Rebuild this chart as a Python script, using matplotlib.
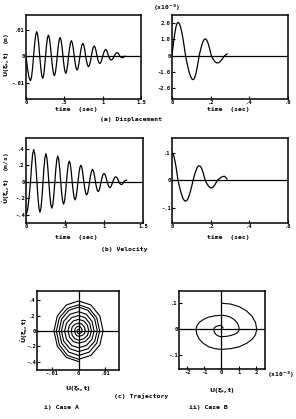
#!/usr/bin/env python3
"""
Response of point xi_s: displacement, velocity and trajectory for case A and case B
"""

import numpy as np
import matplotlib
matplotlib.use('Agg')
import matplotlib.pyplot as plt

# ---- Case A, displacement in mm, velocity in m/s ----
t_a = [0, 0.0193, 0.0387, 0.058,
       0.0717, 0.0853, 0.099, 0.1127, 0.1263, 0.140,
       0.153, 0.166, 0.179, 0.192, 0.205, 0.218,
       0.2303, 0.2427, 0.255, 0.2673, 0.2797, 0.292,
       0.305, 0.318, 0.331, 0.344, 0.357, 0.370,
       0.3825, 0.395, 0.4075, 0.420, 0.4325, 0.445,
       0.4573, 0.4697, 0.482, 0.4943, 0.5067, 0.519,
       0.5312, 0.5433, 0.5555, 0.5677, 0.5798, 0.592,
       0.6043, 0.6167, 0.629, 0.6413, 0.6537, 0.666,
       0.6785, 0.691, 0.7035, 0.716, 0.7285, 0.741,
       0.7533, 0.7657, 0.778, 0.7903, 0.8027, 0.815,
       0.8275, 0.840, 0.8525, 0.865, 0.8775, 0.890,
       0.902, 0.914, 0.926, 0.938, 0.950, 0.962,
       0.975, 0.988, 1.001, 1.014, 1.027, 1.040,
       1.052, 1.064, 1.076, 1.088, 1.100, 1.112,
       1.125, 1.138, 1.151, 1.164, 1.177, 1.190,
       1.201, 1.212, 1.223, 1.233, 1.244, 1.255,
       1.267, 1.279, 1.290]

disp_a_mm = [0, -4.65, -8.05, -9.3,
             -8.05, -4.65, 0, 4.6, 7.97, 9.2,
             7.97, 4.6, 0, -4.2, -7.27, -8.4,
             -7.27, -4.2, 0, 3.95, 6.84, 7.9,
             6.84, 3.95, 0, -3.7, -6.41, -7.4,
             -6.41, -3.7, 0, 3.5, 6.06, 7.0,
             6.06, 3.5, 0, -3.25, -5.63, -6.5,
             -5.63, -3.25, 0, 2.9, 5.02, 5.8,
             5.02, 2.9, 0, -2.65, -4.59, -5.3,
             -4.59, -2.65, 0, 2.4, 4.16, 4.8,
             4.16, 2.4, 0, -2.0, -3.46, -4.0,
             -3.46, -2.0, 0, 1.9, 3.29, 3.8,
             3.29, 1.9, 0, -1.4, -2.42, -2.8,
             -2.42, -1.4, 0, 1.25, 2.17, 2.5,
             2.17, 1.25, 0, -0.75, -1.3, -1.5,
             -1.3, -0.75, 0, 0.65, 1.13, 1.3,
             1.13, 0.65, 0, -0.3, -0.52, -0.6,
             -0.52, -0.3, 0]

vel_a = [-0.40, -0.346, -0.20, 0,
         0.195, 0.338, 0.39, 0.338, 0.195, 0,
         -0.185, -0.32, -0.37, -0.32, -0.185, 0,
         0.17, 0.294, 0.34, 0.294, 0.17, 0,
         -0.16, -0.277, -0.32, -0.277, -0.16, 0,
         0.155, 0.268, 0.31, 0.268, 0.155, 0,
         -0.135, -0.234, -0.27, -0.234, -0.135, 0,
         0.125, 0.217, 0.25, 0.217, 0.125, 0,
         -0.11, -0.19, -0.22, -0.19, -0.11, 0,
         0.10, 0.173, 0.20, 0.173, 0.10, 0,
         -0.08, -0.139, -0.16, -0.139, -0.08, 0,
         0.075, 0.13, 0.15, 0.13, 0.075, 0,
         -0.06, -0.104, -0.12, -0.104, -0.06, 0,
         0.05, 0.087, 0.10, 0.087, 0.05, 0,
         -0.035, -0.061, -0.07, -0.061, -0.035, 0,
         0.03, 0.052, 0.06, 0.052, 0.03, 0,
         -0.018, -0.03, -0.035, -0.03, -0.018, 0,
         0.01, 0.017, 0.02]

# ---- Case B, displacement in 1e-3 m, velocity in m/s ----
t_b = [0, 0.0052, 0.0103, 0.0155, 0.0207, 0.0258, 0.031,
       0.0375, 0.044, 0.0505, 0.057, 0.0635, 0.070,
       0.0765, 0.083, 0.0895, 0.096, 0.1025, 0.109,
       0.1143, 0.1195, 0.1248, 0.130, 0.1353, 0.1405,
       0.1458, 0.151, 0.1563, 0.1615, 0.1668, 0.172,
       0.1772, 0.1823, 0.1875, 0.1927, 0.1978, 0.203,
       0.2082, 0.2133, 0.2185, 0.2237, 0.2288, 0.234,
       0.2403, 0.2467, 0.253, 0.2593, 0.2657, 0.272, 0.285]

disp_b_mm = [0, 0.53, 1.03, 1.45, 1.78, 1.98, 2.05,
             1.98, 1.78, 1.45, 1.03, 0.53, 0,
             -0.38, -0.74, -1.05, -1.28, -1.43, -1.48,
             -1.43, -1.28, -1.05, -0.74, -0.38, 0,
             0.27, 0.515, 0.73, 0.89, 0.995, 1.03,
             0.995, 0.89, 0.73, 0.515, 0.27, 0,
             -0.12, -0.225, -0.32, -0.39, -0.435, -0.45,
             -0.435, -0.39, -0.32, -0.225, -0.12, 0, 0.1]

vel_b = [0.10, 0.097, 0.087, 0.071, 0.05, 0.026, 0,
         -0.020, -0.0385, -0.054, -0.067, -0.074, -0.077,
         -0.074, -0.067, -0.054, -0.0385, -0.020, 0,
         0.014, 0.027, 0.038, 0.047, 0.052, 0.054,
         0.052, 0.047, 0.038, 0.027, 0.014, 0,
         -0.0073, -0.014, -0.0198, -0.024, -0.027, -0.028,
         -0.027, -0.024, -0.0198, -0.014, -0.0073, 0,
         0.0039, 0.0075, 0.0106, 0.013, 0.0145, 0.015, 0.005]

# tick values / labels
time_ticks_a = [0, 0.5, 1, 1.5]
time_labels_a = ['0', '.5', '1', '1.5']
time_ticks_b = [0, 0.2, 0.4, 0.6]
time_labels_b = ['0', '.2', '.4', '.6']
disp_ticks_a = [0.01, 0, -0.01]
disp_labels_a = ['.01', '0', '-.01']
disp_ticks_b = [2, 1, 0, -1, -2]
disp_labels_b = ['2.0', '1.0', '0', '-1.0', '-2.0']
vel_ticks_a = [0.4, 0.2, 0, -0.2, -0.4]
vel_labels_a = ['.4', '.2', '0', '-.2', '-.4']
vel_ticks_b = [0.1, 0, -0.1]
vel_labels_b = ['.1', '0', '-.1']
traj_xticks_a = [-0.01, 0, 0.01]
traj_xlabels_a = ['-.01', '0', '.01']
traj_xticks_b = [-2, -1, 0, 1, 2]
traj_xlabels_b = ['-2', '-1', '0', '1', '2']

W, H = 296, 419
plt.rcParams['font.family'] = 'DejaVu Sans Mono'
plt.rcParams['font.weight'] = 'bold'
plt.rcParams['mathtext.fontset'] = 'dejavusans'
plt.rcParams['mathtext.default'] = 'bf'

fig = plt.figure(figsize=(W / 100, H / 100), dpi=100)


def add_axes_px(x0, y0, x1, y1):
    """axes from pixel box (left, top, right, bottom)"""
    return fig.add_axes([x0 / W, 1 - y1 / H, (x1 - x0) / W, (y1 - y0) / H])


def ftext(x, y, s, **kw):
    kw.setdefault('fontsize', 4.6)
    kw.setdefault('ha', 'center')
    kw.setdefault('va', 'center')
    fig.text(x / W, 1 - y / H, s, **kw)


def style(ax, xt, xl, yt, yl, xlim, ylim):
    ax.set_xlim(*xlim)
    ax.set_ylim(*ylim)
    ax.set_xticks(xt)
    ax.set_xticklabels(xl)
    ax.set_yticks(yt)
    ax.set_yticklabels(yl)
    ax.tick_params(direction='in', length=2, width=0.8, labelsize=4.0, pad=1.0)
    for s in ax.spines.values():
        s.set_linewidth(1.1)


lw = 0.9

# (a) displacement
ax1 = add_axes_px(26, 15, 141, 99)
ax1.plot(t_a, np.array(disp_a_mm) * 1e-3, color='k', lw=lw)
ax1.axhline(0, color='k', lw=0.9)
style(ax1, time_ticks_a, time_labels_a, disp_ticks_a, disp_labels_a, (0, 1.5), (-0.0162, 0.0155))

ax2 = add_axes_px(172, 15, 288, 99)
ax2.plot(t_b, disp_b_mm, color='k', lw=lw)
ax2.axhline(0, color='k', lw=0.9)
style(ax2, time_ticks_b, time_labels_b, disp_ticks_b, disp_labels_b, (0, 0.6), (-2.67, 2.5))

# (b) velocity
ax3 = add_axes_px(26, 138, 143, 223)
ax3.plot(t_a, vel_a, color='k', lw=lw)
ax3.axhline(0, color='k', lw=0.9)
style(ax3, time_ticks_a, time_labels_a, vel_ticks_a, vel_labels_a, (0, 1.5), (-0.50, 0.53))

ax4 = add_axes_px(172, 138, 288, 223)
ax4.plot(t_b, vel_b, color='k', lw=lw)
ax4.axhline(0, color='k', lw=0.9)
style(ax4, time_ticks_b, time_labels_b, vel_ticks_b, vel_labels_b, (0, 0.6), (-0.157, 0.156))

# (c) trajectory
ax5 = add_axes_px(37, 291, 119, 370)
ax5.plot(np.array(disp_a_mm) * 1e-3, vel_a, color='k', lw=0.8)
ax5.axhline(0, color='k', lw=0.9)
ax5.axvline(0, color='k', lw=0.9)
style(ax5, traj_xticks_a, traj_xlabels_a, vel_ticks_a, vel_labels_a, (-0.0157, 0.0152), (-0.51, 0.52))

ax6 = add_axes_px(179, 291, 265, 369)
ax6.plot(disp_b_mm, vel_b, color='k', lw=0.8)
ax6.axhline(0, color='k', lw=0.9)
ax6.axvline(0, color='k', lw=0.9)
style(ax6, traj_xticks_b, traj_xlabels_b, vel_ticks_b, vel_labels_b, (-2.47, 2.53), (-0.152, 0.147))

# labels
ftext(7, 55, r'$U(\xi_s,t)$  (m)', rotation=90)
ftext(167, 8, r'(x10$^{-3}$)')
ftext(76, 110, 'time  (sec)')
ftext(228, 110, 'time  (sec)')
ftext(131, 120, '(a) Displacement')

ftext(7, 178, r'$\dot{U}(\xi_s,t)$  (m/s)', rotation=90)
ftext(76, 237, 'time  (sec)')
ftext(228, 237, 'time  (sec)')
ftext(124, 250, '(b) Velocity')

ftext(25, 330, r'$\dot{U}(\xi_s,t)$', rotation=90)
ftext(78, 388, r'$U(\xi_s,t)$')
ftext(222, 390, r'$U(\xi_s,t)$')
ftext(281, 375, r'(x10$^{-3}$)')
ftext(141, 396, '(c) Trajectory')
ftext(61, 407, 'i) Case A')
ftext(208, 407, 'ii) Case B')

fig.savefig('out.png', dpi=100)
